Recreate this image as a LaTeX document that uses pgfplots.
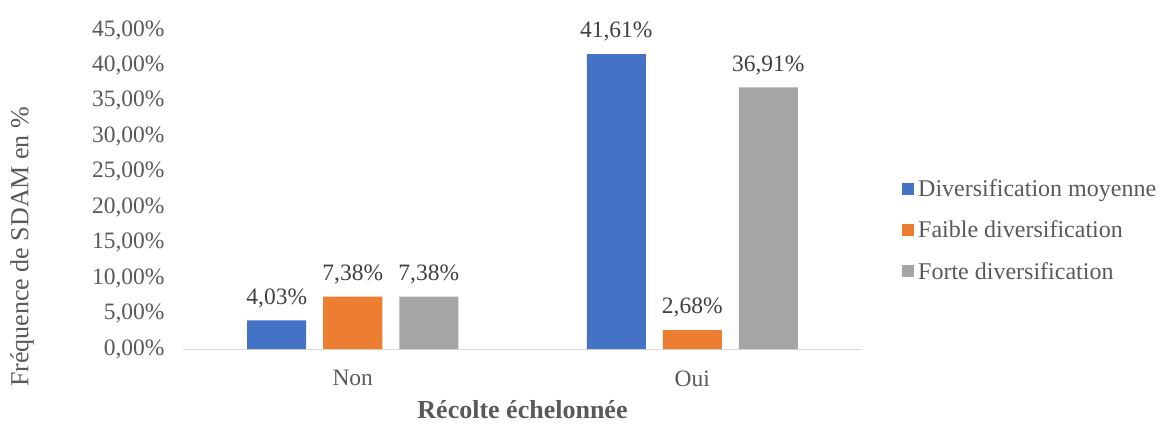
\documentclass[border=0pt]{standalone}
\usepackage{pgfplots}
\pgfplotsset{compat=1.18}
\usepackage{fontspec}
\setmainfont{Liberation Serif}
\definecolor{cblue}{HTML}{4472C4}
\definecolor{corange}{HTML}{ED7D31}
\definecolor{cgrey}{HTML}{A5A5A5}
\definecolor{txt}{HTML}{595959}
\definecolor{txtd}{HTML}{404040}
\definecolor{axl}{HTML}{D9D9D9}
\begin{document}
\begin{tikzpicture}
\useasboundingbox (-183pt,-75pt) rectangle (978pt,349pt);
\begin{axis}[
  scale only axis,
  width=679pt, height=319pt,
  at={(0,0)}, anchor=south west,
  ybar=17pt, bar width=59pt,
  xmin=-0.5, xmax=1.5, ymin=0, ymax=45,
  xtick={0,1}, xticklabels={Non,Oui},
  ytick={0,5,...,45},
  major tick length=0pt,
  axis x line*=bottom, axis y line*=left,
  x axis line style={draw=axl, line width=1pt, -},
  y axis line style={draw=none},
  /pgf/number format/assume math mode=true,
  yticklabel={\pgfmathprintnumber[fixed,fixed zerofill,precision=2,use comma]{\tick}\%},
  tick label style={font=\fontsize{23.5}{27}\selectfont, text=txt},
  y tick label style={xshift=-15pt},
  x tick label style={yshift=-18pt},
  xlabel={\textbf{Récolte échelonnée}},
  ylabel={Fréquence de SDAM en \%},
  every axis x label/.style={at={(axis description cs:0.5,0)}, yshift=-61pt, anchor=center, font=\fontsize{26}{30}\selectfont, text=txt},
  every axis y label/.style={at={(axis description cs:-0.237,0.32)}, rotate=90, anchor=center, font=\fontsize{26}{30}\selectfont, text=txt},
  nodes near coords={\pgfmathprintnumber[fixed,fixed zerofill,precision=2,use comma]{\pgfplotspointmeta}\%},
  nodes near coords style={font=\fontsize{23.5}{27}\selectfont, text=txtd, yshift=9pt},
  clip=false,
  legend style={at={(axis description cs:1,0.373)}, anchor=west, xshift=40pt, draw=none, fill=none,
    font=\fontsize{24}{28}\selectfont, text=txt, row sep=19pt, inner sep=0pt,
    nodes={inner xsep=4pt}},
  legend cell align=left,
  legend image code/.code={\fill[#1, draw=none] (0pt,-6pt) rectangle (12pt,6pt);},
]
\addplot[fill=cblue, draw=none] coordinates {(0,4.03) (1,41.61)};
\addplot[fill=corange, draw=none] coordinates {(0,7.38) (1,2.68)};
\addplot[fill=cgrey, draw=none] coordinates {(0,7.38) (1,36.91)};
\legend{Diversification moyenne, Faible diversification, Forte diversification}
\end{axis}
\end{tikzpicture}
\end{document}
